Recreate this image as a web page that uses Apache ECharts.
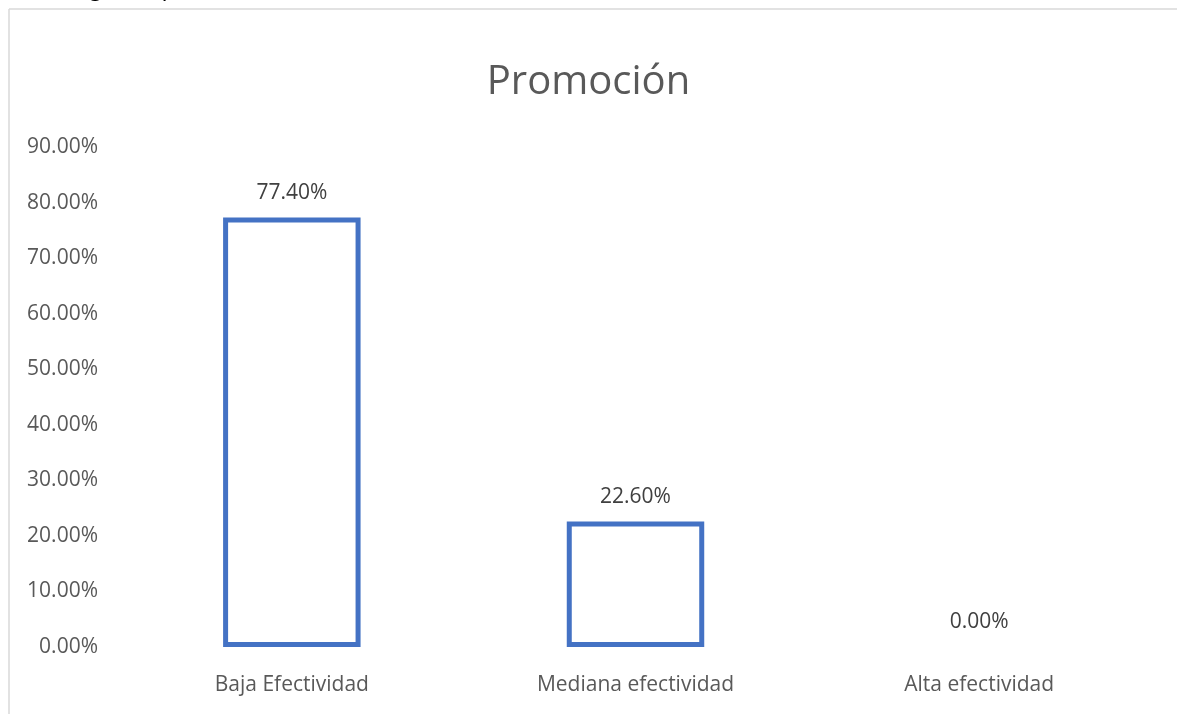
<!DOCTYPE html>
<html>
<head>
<meta charset="utf-8">
<script src="https://cdn.jsdelivr.net/npm/echarts@6/dist/echarts.min.js"></script>
<style>
  html, body { margin: 0; padding: 0; background: #ffffff; }
  #chart { width: 1177px; height: 714px; }
</style>
</head>
<body>
<div id="chart"></div>
<script>
// Share of respondents per effectiveness level of the promotion strategy
const categories = ['Baja Efectividad', 'Mediana efectividad', 'Alta efectividad'];
const percentages = [77.4, 22.6, 0.0];
const yTicks = { min: 0, max: 90, step: 10 };
const chartTitle = 'Promoción';
const caption = 'Estrategia de promoción';

const FONT = '"Open Sans", "Noto Sans", sans-serif';
const pct = v => v.toFixed(2) + '%';

const chart = echarts.init(document.getElementById('chart'), null, { renderer: 'canvas' });

chart.setOption({
  backgroundColor: '#ffffff',
  animation: false,
  title: {
    text: chartTitle,
    left: 'center',
    top: 58,
    textStyle: { fontFamily: FONT, fontSize: 40, fontWeight: 'normal', color: '#595959' }
  },
  graphic: [
    // outer frame of the chart area (top and left edges)
    { type: 'line', shape: { x1: 9, y1: 9, x2: 1177, y2: 9 }, style: { stroke: '#d9d9d9', lineWidth: 1.5 }, silent: true },
    { type: 'line', shape: { x1: 9, y1: 9, x2: 9, y2: 714 }, style: { stroke: '#d9d9d9', lineWidth: 1.5 }, silent: true },
    // caption line above the chart, mostly outside the page
    { type: 'text', x: 14, y: 0, style: { text: caption, fontFamily: FONT, fontStyle: 'italic', fontSize: 25, fill: '#000000', textVerticalAlign: 'bottom', verticalAlign: 'bottom' }, silent: true }
  ],
  grid: { left: 120, right: 26, top: 147.5, bottom: 67, containLabel: false },
  xAxis: {
    type: 'category',
    data: categories,
    axisLine: { show: false },
    axisTick: { show: false },
    axisLabel: { fontFamily: FONT, fontSize: 21, color: '#595959', margin: 28 }
  },
  yAxis: {
    type: 'value',
    min: yTicks.min,
    max: yTicks.max,
    interval: yTicks.step,
    splitLine: { show: false },
    axisLine: { show: false },
    axisTick: { show: false },
    axisLabel: { fontFamily: FONT, fontSize: 21, color: '#595959', margin: 22, formatter: v => pct(v) }
  },
  series: [{
    type: 'bar',
    barWidth: '40%',
    data: percentages.map(v => ({
      value: v,
      itemStyle: v === 0 ? { borderWidth: 0 } : undefined
    })),
    itemStyle: { color: 'rgba(255,255,255,0)', borderColor: '#4472C4', borderWidth: 5 },
    label: {
      show: true,
      position: 'top',
      distance: 14,
      fontFamily: FONT,
      fontSize: 21,
      color: '#404040',
      formatter: p => pct(p.value)
    }
  }]
});
</script>
</body>
</html>
